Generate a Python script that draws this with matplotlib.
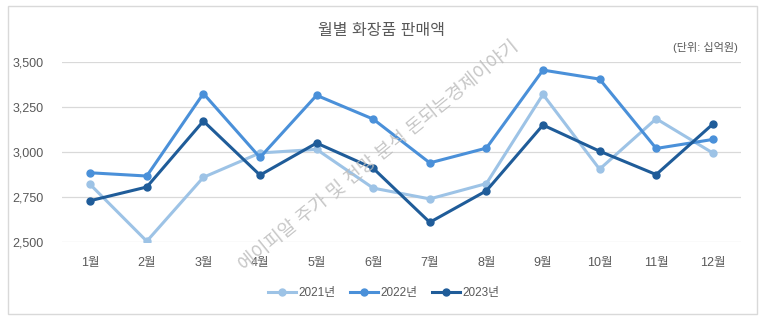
import matplotlib.pyplot as plt
from matplotlib.patches import Rectangle
from matplotlib.ticker import FuncFormatter

plt.rcParams['font.family'] = ['Liberation Sans', 'Noto Sans CJK KR']
plt.rcParams['axes.unicode_minus'] = False

months = ['1월', '2월', '3월', '4월', '5월', '6월', '7월', '8월', '9월', '10월', '11월', '12월']
sales_2021 = [2820, 2505, 2860, 2995, 3015, 2800, 2740, 2825, 3320, 2905, 3185, 2995]
sales_2022 = [2885, 2867, 3325, 2970, 3315, 3183, 2940, 3022, 3455, 3405, 3020, 3070]
sales_2023 = [2730, 2806, 3172, 2872, 3050, 2910, 2610, 2785, 3150, 3005, 2875, 3155]
series_names = ['2021년', '2022년', '2023년']
colors = ['#9DC3E6', '#4A90D9', '#1F5C99']

fig = plt.figure(figsize=(7.64, 3.22), dpi=100)
ax = fig.add_axes([0.081, 0.248, 0.889, 0.5595])

x = range(len(months))
for vals, name, c in zip([sales_2021, sales_2022, sales_2023], series_names, colors):
    ax.plot(x, vals, color=c, lw=2.2, marker='o', markersize=5, label=name,
            solid_joinstyle='round')

ax.set_xlim(-0.5, len(months) - 0.5)
ax.set_ylim(2500, 3500)
ax.set_yticks([2500, 2750, 3000, 3250, 3500])
ax.yaxis.set_major_formatter(FuncFormatter(lambda v, p: f'{int(v):,}'))
ax.set_xticks(list(x))
ax.set_xticklabels(months)
ax.tick_params(axis='both', length=0, labelsize=9, colors='#595959')
ax.tick_params(axis='x', pad=11)
ax.tick_params(axis='y', pad=13)
ax.grid(axis='y', color='#D9D9D9', lw=0.9)
ax.set_axisbelow(True)
for s in ax.spines.values():
    s.set_visible(False)

fig.text(0.5, 0.905, '월별 화장품 판매액', ha='center', va='center', fontsize=11.5, color='#595959')
fig.text(0.966, 0.852, '(단위: 십억원)', ha='right', va='center', fontsize=8, color='#595959')

leg = fig.legend(loc='center', bbox_to_anchor=(0.502, 0.09), ncol=3, frameon=False,
                 fontsize=8.5, handlelength=2.4, columnspacing=1.2, handletextpad=0.2)
for t in leg.get_texts():
    t.set_color('#595959')

# 워터마크
fig.text(0.497, 0.515, '에이피알 주가 및 전망 분석 돈되는경제이야기', ha='center', va='center',
         rotation=39, fontsize=13.5, color='#BDBDBD', alpha=0.85)

# 바깥 테두리
fig.patches.append(Rectangle((0.011, 0.025), 0.98, 0.955, transform=fig.transFigure,
                             fill=False, edgecolor='#D9D9D9', lw=1))

fig.savefig('out.png', dpi=100, facecolor='white')
